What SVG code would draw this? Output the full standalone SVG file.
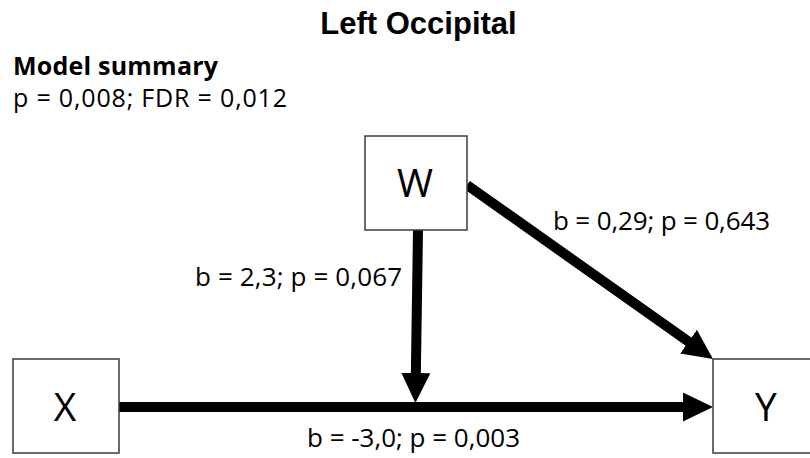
<svg xmlns="http://www.w3.org/2000/svg" width="810" height="458" viewBox="0 0 810 458">
<style>
.box{fill:#fff;stroke:#3a3a3a;stroke-width:1.5}
.lbl{font-family:"Open Sans","Liberation Sans",sans-serif;font-size:26px;fill:#000}
.sum{font-family:"Open Sans","Liberation Sans",sans-serif;font-size:25px;fill:#000}
.node{font-family:"Open Sans","Liberation Sans",sans-serif;font-size:39px;fill:#000;text-anchor:middle}
.edge{stroke:#000;stroke-width:10;fill:none}
</style>
<defs>
<marker id="ah" viewBox="0 0 30 29" markerWidth="30" markerHeight="29" refX="10" refY="14.5" orient="auto" markerUnits="userSpaceOnUse">
<path d="M0,0 L30,14.5 L0,29 z" fill="#000"/>
</marker>
</defs>
<rect width="810" height="458" fill="#fff"/>
<text x="418.5" y="34" font-family="'Liberation Sans',Arial,sans-serif" font-weight="bold" font-size="31" text-anchor="middle">Left Occipital</text>
<text x="13" y="75" class="sum" style="font-weight:bold" textLength="205">Model summary</text>
<text x="13" y="107" class="sum" textLength="274">p = 0,008; FDR = 0,012</text>
<g id="connectors">
<line class="edge" x1="119" y1="407" x2="693" y2="407" marker-end="url(#ah)"/>
<line class="edge" x1="418" y1="230" x2="415.7" y2="383" marker-end="url(#ah)"/>
<line class="edge" x1="467" y1="185" x2="696.7" y2="347.4" marker-end="url(#ah)"/>
<text x="195" y="286" class="lbl" textLength="207">b = 2,3; p = 0,067</text>
<text x="553" y="230" class="lbl" textLength="217">b = 0,29; p = 0,643</text>
<text x="307" y="447" class="lbl" textLength="213">b = -3,0; p = 0,003</text>
</g>
<g id="node-W">
<rect class="box" x="365" y="136" width="102" height="94"/>
<text class="node" x="415" y="197">W</text>
</g>
<g id="node-X">
<rect class="box" x="13" y="359" width="106" height="94"/>
<text class="node" x="65" y="421">X</text>
</g>
<g id="node-Y">
<rect class="box" x="713" y="359" width="106" height="94"/>
<text class="node" x="766" y="421">Y</text>
</g>
</svg>
